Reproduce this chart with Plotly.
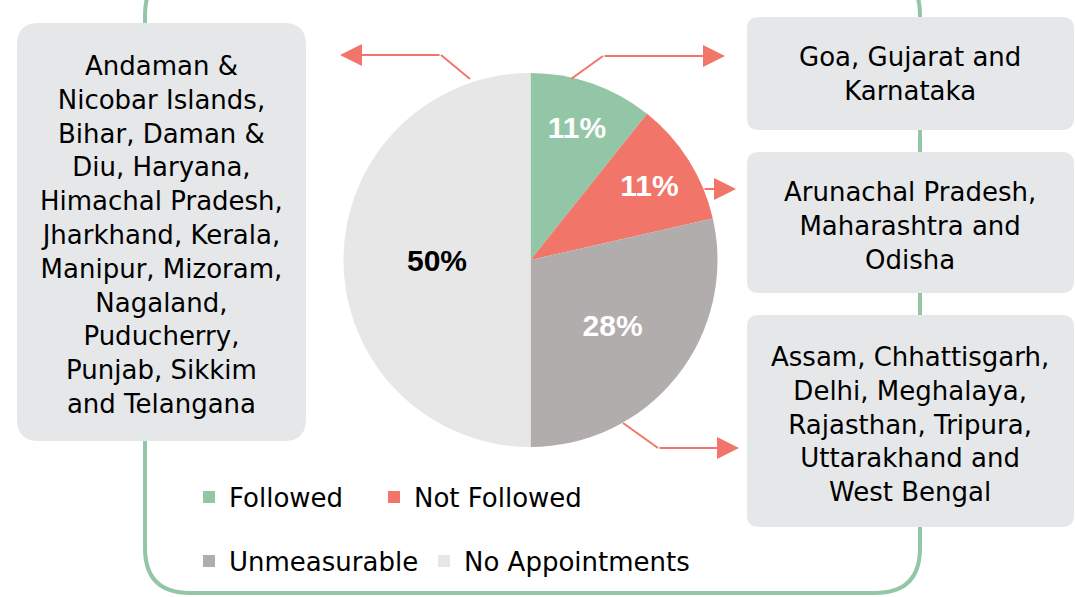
import plotly.graph_objects as go

W, H = 1075, 597

categories = ["Followed", "Not Followed", "Unmeasurable", "No Appointments"]
state_counts = [3, 3, 8, 14]
pct_labels = ["11%", "11%", "28%", "50%"]
colors = ["#93c6a6", "#f2756a", "#b1adac", "#e7e7e8"]
label_colors = ["white", "white", "white", "black"]

box_texts = [
    "Andaman &<br>Nicobar Islands,<br>Bihar, Daman &<br>Diu, Haryana,<br>Himachal Pradesh,<br>Jharkhand, Kerala,<br>Manipur, Mizoram,<br>Nagaland,<br>Puducherry,<br>Punjab, Sikkim<br>and Telangana",
    "Goa, Gujarat and<br>Karnataka",
    "Arunachal Pradesh,<br>Maharashtra and<br>Odisha",
    "Assam, Chhattisgarh,<br>Delhi, Meghalaya,<br>Rajasthan, Tripura,<br>Uttarakhand and<br>West Bengal",
]

FONT = "DejaVu Sans, sans-serif"
RED = "#f2756a"
GREEN = "#93c6a6"
BOXC = "#e6e7e8"


def px(x):
    return x / W


def py(y):
    return 1 - y / H


fig = go.Figure()

cx, cy, R = 530.5, 260, 187
fig.add_trace(go.Pie(
    labels=categories, values=state_counts, text=pct_labels,
    textinfo="text", textposition="inside", insidetextorientation="horizontal",
    sort=False, direction="clockwise", rotation=0,
    marker=dict(colors=colors, line=dict(width=0)),
    insidetextfont=dict(family="Liberation Sans, Arial", size=30, color=label_colors, weight="bold"),
    domain=dict(x=[px(cx - R), px(cx + R)], y=[py(cy + R), py(cy - R)]),
    showlegend=False, hoverinfo="label+percent",
))

# legend entries, one legend box per entry
legend_ids = ["legend", "legend2", "legend3", "legend4"]
for name, col, lg in zip(categories, colors, legend_ids):
    fig.add_trace(go.Scatter(
        x=[None], y=[None], mode="markers", name=name,
        marker=dict(symbol="square", size=12, color=col),
        legend=lg, showlegend=True,
    ))


def rrect(x0, y0, x1, y1, r):
    return (f"M {x0+r} {y0} L {x1-r} {y0} Q {x1} {y0} {x1} {y0+r} "
            f"L {x1} {y1-r} Q {x1} {y1} {x1-r} {y1} L {x0+r} {y1} "
            f"Q {x0} {y1} {x0} {y1-r} L {x0} {y0+r} Q {x0} {y0} {x0+r} {y0} Z")


shapes = []
shapes.append(dict(type="path", path=rrect(145, -30, 920, 593, 45), xref="x", yref="y",
                   line=dict(color=GREEN, width=4), fillcolor="rgba(0,0,0,0)", layer="below"))
boxes = [(17, 23, 306, 441, 22), (747, 17, 1074, 130, 12), (747, 152, 1074, 293, 12), (747, 315, 1074, 527, 12)]
for (x0, y0, x1, y1, r) in boxes:
    shapes.append(dict(type="path", path=rrect(x0, y0, x1, y1, r), xref="x", yref="y",
                       line=dict(width=0), fillcolor=BOXC, layer="below"))

for (x0, y0, x1, y1) in [(470, 79, 441, 55), (571, 79, 603, 56), (623, 423, 658, 448)]:
    shapes.append(dict(type="line", x0=x0, y0=y0, x1=x1, y1=y1, xref="x", yref="y",
                       line=dict(color=RED, width=2)))

annotations = []
for (tx, ty, hx, hy) in [(441, 55, 340, 55), (603, 56, 725, 56), (703, 189, 736, 189), (658, 448, 739, 448)]:
    annotations.append(dict(x=hx, y=hy, ax=tx, ay=ty, xref="x", yref="y", axref="x", ayref="y",
                            text="", showarrow=True, arrowhead=2, arrowsize=2.2, arrowwidth=2,
                            arrowcolor=RED, standoff=0, startstandoff=0))

text_pos = [(161.5, 235), (910, 74), (910, 226), (910, 424)]
for t, (x, y) in zip(box_texts, text_pos):
    annotations.append(dict(x=x, y=y, xref="x", yref="y", text=t, showarrow=False,
                            xanchor="center", yanchor="middle", align="center",
                            font=dict(family=FONT, size=26, color="black")))

legend_pos = [(189, 497), (374, 497), (189, 561), (424, 561)]
legend_layout = {}
for lg, (lx, ly) in zip(legend_ids, legend_pos):
    legend_layout[lg] = dict(orientation="h", x=px(lx), y=py(ly), xanchor="left", yanchor="middle",
                             bgcolor="rgba(0,0,0,0)", font=dict(family=FONT, size=26, color="black"))

fig.update_layout(
    width=W, height=H, margin=dict(l=0, r=0, t=0, b=0),
    paper_bgcolor="white", plot_bgcolor="white",
    xaxis=dict(range=[0, W], visible=False, fixedrange=True),
    yaxis=dict(range=[H, 0], visible=False, fixedrange=True),
    shapes=shapes, annotations=annotations,
    **legend_layout,
)

fig.write_html("out.html", config={"displayModeBar": False},
               post_script="document.body.style.margin='0';document.body.style.overflow='hidden';")
